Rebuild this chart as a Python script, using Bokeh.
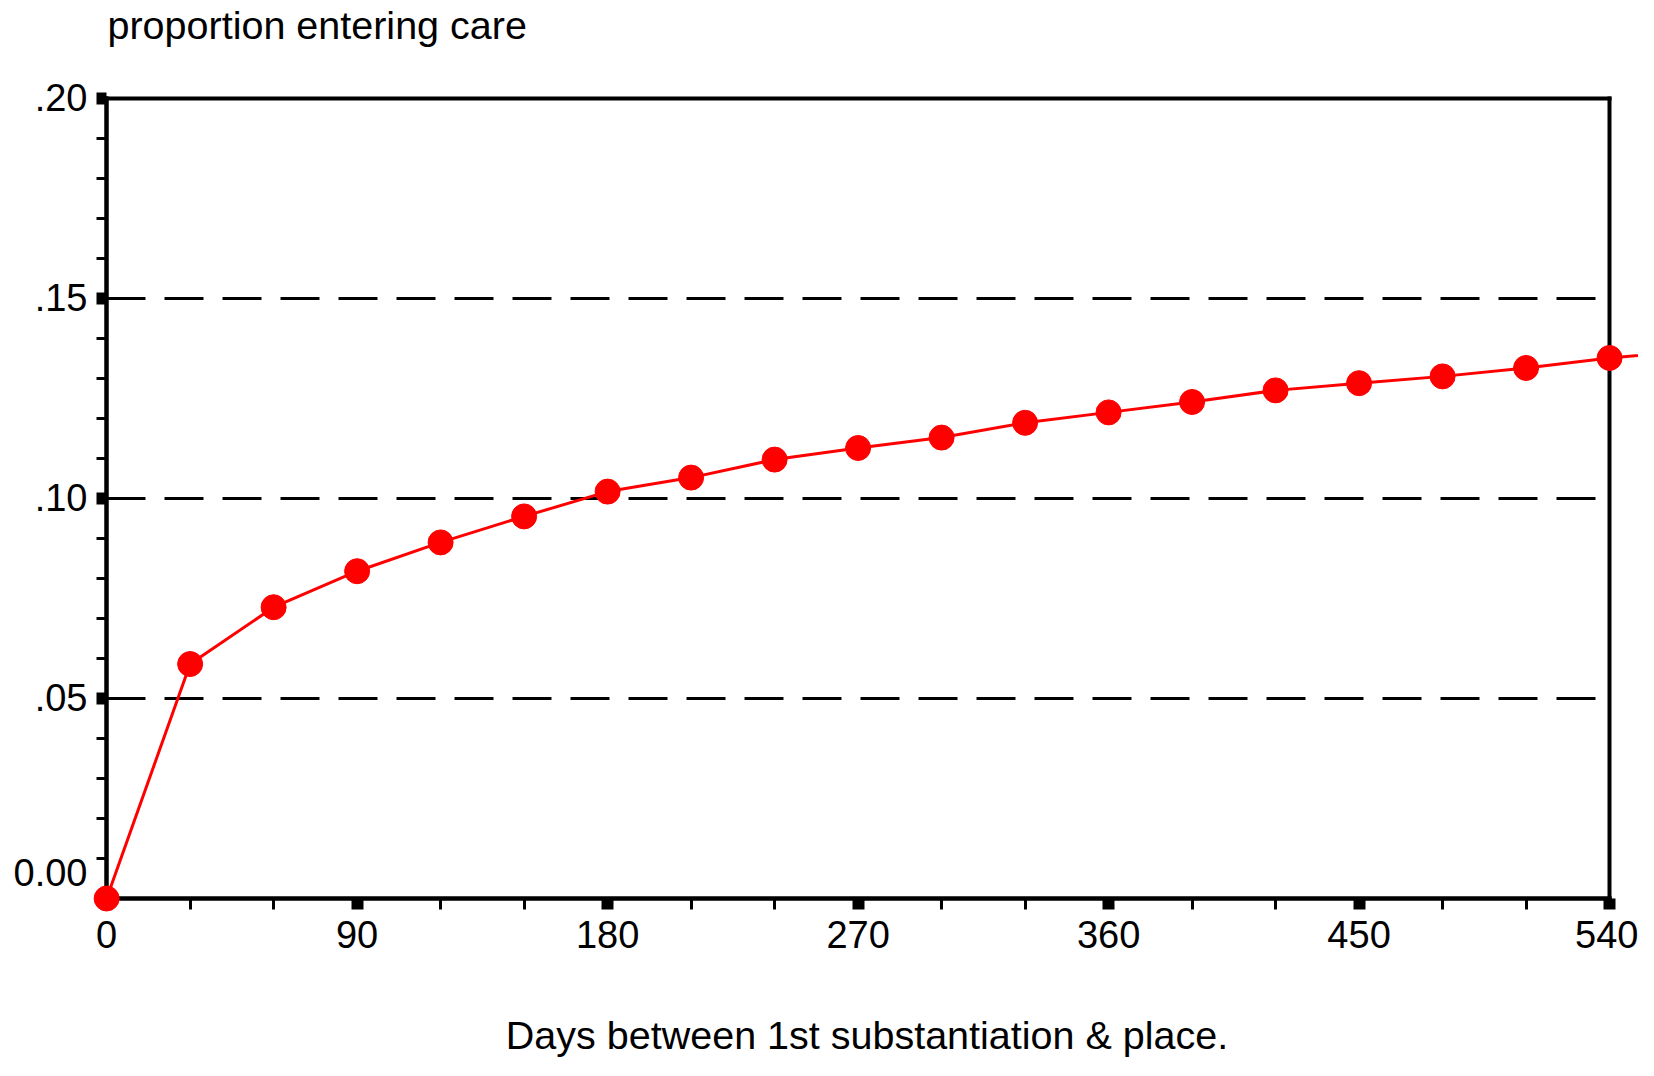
from bokeh.plotting import figure
from bokeh.models import Range1d, FixedTicker, LinearAxis
from bokeh.embed import file_html
from bokeh.resources import INLINE

# ---- data ----
days = [0, 30, 60, 90, 120, 150, 180, 210, 240, 270, 300, 330, 360, 390, 420, 450, 480, 510, 540, 570]
proportion = [0.0, 0.0586, 0.0728, 0.0818, 0.0890, 0.0955, 0.1017, 0.1052, 0.1097, 0.1126,
              0.1152, 0.1189, 0.1215, 0.1241, 0.1270, 0.1288, 0.1305, 0.1326, 0.1351, 0.1370]

x_major = [0, 90, 180, 270, 360, 450, 540]
x_minor = [30, 60, 120, 150, 210, 240, 300, 330, 390, 420, 480, 510]
y_major = [0.0, 0.05, 0.10, 0.15, 0.20]
y_minor = [0.01, 0.02, 0.03, 0.04, 0.06, 0.07, 0.08, 0.09, 0.11, 0.12, 0.13, 0.14,
           0.16, 0.17, 0.18, 0.19]
y_labels = {0.0: "0.00\n", 0.05: ".05", 0.10: ".10", 0.15: ".15", 0.20: ".20"}
grid_levels = [0.05, 0.10, 0.15]

title_text = "proportion entering care"
x_title = "Days between 1st substantiation & place."

FONT = "Liberation Sans"
X_END = 540
Y_END = 0.20

p = figure(width=1638, height=1060, output_backend="svg", toolbar_location=None,
           x_range=Range1d(-4, 550.4), y_range=Range1d(-0.003, 0.21295),
           min_border_left=95, min_border_right=0, min_border_top=43, min_border_bottom=150)
p.outline_line_color = None
p.background_fill_color = "white"
p.border_fill_color = "white"

# ---- title ----
p.title.text = title_text
p.title.align = "left"
p.title.vertical_align = "bottom"
p.title.offset = 12
p.title.text_font = FONT
p.title.text_font_size = "39.5px"
p.title.text_font_style = "normal"
p.title.text_color = "black"
p.title.standoff = 0

# ---- label-only axes at the frame edges ----
xa = p.xaxis[0]
xa.ticker = FixedTicker(ticks=x_major)
xa.axis_line_color = None
xa.major_tick_line_color = None
xa.minor_tick_line_color = None
xa.major_tick_out = 0
xa.major_tick_in = 0
xa.major_label_text_font = FONT
xa.major_label_text_font_size = "38px"
xa.major_label_text_color = "black"
xa.major_label_standoff = 10
xa.axis_label = x_title
xa.axis_label_text_font = FONT
xa.axis_label_text_font_size = "39.5px"
xa.axis_label_text_font_style = "normal"
xa.axis_label_text_color = "black"
xa.axis_label_standoff = 62

ya = p.yaxis[0]
ya.ticker = FixedTicker(ticks=y_major)
ya.major_label_overrides = y_labels
ya.axis_line_color = None
ya.major_tick_line_color = None
ya.minor_tick_line_color = None
ya.major_tick_out = 0
ya.major_tick_in = 0
ya.major_label_text_font = FONT
ya.major_label_text_font_size = "38px"
ya.major_label_text_color = "black"
ya.major_label_standoff = 8


# ---- axis rules and ticks (tick marks drawn as label-free minor ticks) ----
def rule_axis(marks, bounds, fixed, tick_width, tick_out):
    ax = LinearAxis(ticker=FixedTicker(ticks=[], minor_ticks=marks), bounds=bounds,
                    fixed_location=fixed)
    ax.axis_line_width = 4
    ax.axis_line_cap = "square"
    ax.axis_line_color = "black"
    ax.major_tick_line_color = None
    ax.major_tick_out = 0
    ax.major_tick_in = 0
    ax.minor_tick_line_width = tick_width
    ax.minor_tick_line_color = "black"
    ax.minor_tick_out = tick_out
    ax.minor_tick_in = 0
    ax.major_label_standoff = 0
    return ax


p.add_layout(rule_axis(x_minor, (0, X_END), 0, 3, 11), "below")
p.add_layout(rule_axis(x_major, (0, X_END), 0, 12, 11), "below")
p.add_layout(rule_axis(y_minor, (0, Y_END), 0, 3, 10), "left")
p.add_layout(rule_axis(y_major, (0, Y_END), 0, 12, 10), "left")
p.add_layout(rule_axis([], (0, X_END), Y_END, 3, 0), "above")       # top frame line at .20
p.add_layout(rule_axis([], (0, Y_END), X_END, 3, 0), "right")       # right frame line at 540

# ---- grid ----
p.xgrid.visible = False
yg = p.ygrid[0]
yg.ticker = FixedTicker(ticks=grid_levels)
yg.grid_line_color = "black"
yg.grid_line_width = 3
yg.grid_line_dash = "39 19"
if "cross_bounds" in yg.properties():
    yg.cross_bounds = (0, X_END)

# ---- data ----
p.line(days, proportion, line_color="#ff0000", line_width=3, level="overlay")
p.scatter(days, proportion, size=25, fill_color="#ff0000", line_color="#ff0000",
          level="overlay")

open("out.html", "w").write(file_html(p, INLINE))
